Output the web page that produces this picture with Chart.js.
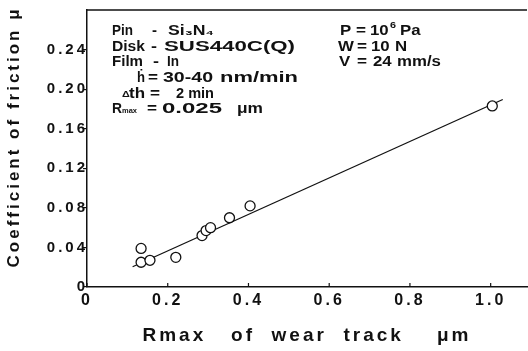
<!DOCTYPE html>
<html><head><meta charset="utf-8">
<script src="https://cdn.jsdelivr.net/npm/chart.js@4.4.1/dist/chart.umd.min.js"></script>
<style>html,body{margin:0;padding:0;background:#fff}#c{display:block}</style>
</head><body>
<canvas id="c" width="528" height="351" style="width:528px;height:351px"></canvas>
<script>
// ---- data ----
const rmaxWear     = [0.134, 0.134, 0.156, 0.220, 0.285, 0.295, 0.306, 0.353, 0.404, 1.004];
const frictionCoef = [0.039, 0.025, 0.027, 0.030, 0.052, 0.057, 0.060, 0.070, 0.082, 0.183];
const fitX = [0.113, 1.03];
const fitY = [0.0205, 0.1895];
const xTicks = [0, 0.2, 0.4, 0.6, 0.8, 1.0];
const xTickLabels = ['0', '0.2', '0.4', '0.6', '0.8', '1.0'];
const yTicks = [0, 0.04, 0.08, 0.12, 0.16, 0.20, 0.24];
const yTickLabels = ['0', '0.04', '0.08', '0.12', '0.16', '0.20', '0.24'];
const xTitle = 'Rmax   of  wear  track    \u03bcm';
const yTitle = '   Coefficient of friction \u03bc';

// annotation text pieces: [text, x, y, fontSize, targetWidth(0 = natural*1.2)]
const notes = [
  ['Pin', 112, 31, 14, 21], ['-', 152, 31, 14, 5], ['Si\u2083N\u2084', 168, 31, 14, 46],
  ['Disk', 112, 47, 14, 33], ['-', 151, 47, 14, 6], ['SUS440C(Q)', 164, 47, 14, 131],
  ['Film', 112, 62, 14, 31], ['-', 153, 62, 14, 6], ['In', 167, 62, 14, 12],
  ['\u1e23', 137, 78, 14, 8], ['=', 148, 78, 14, 10], ['30-40', 163, 78, 14, 50], ['nm/min', 220, 78, 14, 78],
  ['\u0394', 122, 95, 9, 0], ['th', 129, 94, 14, 16], ['=', 150, 94, 14, 10], ['2 min', 176, 94, 14, 38],
  ['R', 112, 109, 14, 10], ['max', 122, 111, 8, 15], ['=', 147, 109, 14, 10], ['0.025', 162, 109, 14, 60], ['\u03bcm', 237, 109, 14, 26],
  ['P', 340, 31, 14, 0], ['=', 356, 31, 14, 10], ['10', 370, 31, 14, 0], ['6', 390, 26, 9, 0], ['Pa', 400, 31, 14, 0],
  ['W', 338, 47, 14, 0], ['=', 357, 47, 14, 10], ['10', 371, 47, 14, 0], ['N', 395, 47, 14, 0],
  ['V', 339, 62, 14, 0], ['=', 357, 62, 14, 10], ['24', 373, 62, 14, 0], ['mm/s', 397, 62, 14, 0]
];

const FONT = "'Liberation Sans', Arial, Helvetica, sans-serif";
const INK = '#111';

const spacingPlugin = {
  id: 'spacing',
  afterInit(chart) { chart.ctx.letterSpacing = '3px'; },
  beforeUpdate(chart) { chart.ctx.letterSpacing = '3px'; },
  beforeLayout(chart) { chart.ctx.letterSpacing = '3px'; },
  beforeDraw(chart) { chart.ctx.letterSpacing = '3px'; }
};

const framePlugin = {
  id: 'frame',
  afterDraw(chart) {
    const ctx = chart.ctx, a = chart.chartArea, xs = chart.scales.x;
    ctx.save();
    ctx.strokeStyle = INK;
    ctx.lineWidth = 1.5;
    ctx.beginPath();
    ctx.moveTo(a.left, a.top); ctx.lineTo(a.right, a.top);
    ctx.stroke();
    ctx.lineWidth = 1.2;
    xTicks.forEach(v => {
      const px = xs.getPixelForValue(v);
      ctx.beginPath(); ctx.moveTo(px, a.bottom); ctx.lineTo(px, a.bottom - 4); ctx.stroke();
    });
    ctx.fillStyle = INK;
    ctx.textBaseline = 'middle';
    ctx.textAlign = 'left';
    ctx.letterSpacing = '0px';
    notes.forEach(([t, x, y, s, w]) => {
      ctx.save();
      ctx.font = 'bold ' + s + 'px ' + FONT;
      const m = ctx.measureText(t).width;
      const sx = w > 0 ? w / m : 1.2;
      ctx.translate(x, y);
      ctx.scale(sx, 1);
      ctx.fillText(t, 0, 0);
      ctx.restore();
    });
    ctx.restore();
  }
};

new Chart(document.getElementById('c'), {
  type: 'scatter',
  data: {
    datasets: [
      {
        type: 'scatter',
        data: rmaxWear.map((x, i) => ({ x, y: frictionCoef[i] })),
        pointStyle: 'circle', pointRadius: 5, pointBorderWidth: 1.3,
        pointBorderColor: INK, pointBackgroundColor: '#fff', order: 0
      },
      {
        type: 'line',
        data: fitX.map((x, i) => ({ x, y: fitY[i] })),
        borderColor: INK, borderWidth: 1.3, pointRadius: 0, fill: false, order: 1
      }
    ]
  },
  options: {
    responsive: false, animation: false, devicePixelRatio: 1,
    layout: { autoPadding: false, padding: { left: 0, right: 1, top: 10, bottom: 2 } },
    plugins: { legend: { display: false }, tooltip: { enabled: false } },
    scales: {
      x: {
        type: 'linear', min: 0, max: 1.09,
        afterBuildTicks: s => { s.ticks = xTicks.map(v => ({ value: v })); },
        afterFit: s => { s.height = 62; s.paddingRight = 0; s.paddingLeft = 0; },
        ticks: {
          color: INK, font: { family: FONT, size: 16, weight: 'bold' }, padding: 4,
          maxRotation: 0, autoSkip: false,
          callback: (v) => { const i = xTicks.findIndex(t => Math.abs(t - v) < 1e-9); return i >= 0 ? xTickLabels[i] : ''; }
        },
        grid: { drawOnChartArea: false, drawTicks: false },
        border: { display: true, color: INK, width: 1.5 },
        title: { display: true, text: xTitle, color: INK, font: { family: FONT, size: 19, weight: 'bold' }, padding: { top: 0, bottom: 2 } }
      },
      y: {
        type: 'linear', min: 0, max: 0.28,
        afterBuildTicks: s => { s.ticks = yTicks.map(v => ({ value: v })); },
        afterFit: s => { s.width = 87; },
        ticks: {
          color: INK, font: { family: FONT, size: 15, weight: 'bold' }, padding: -5, autoSkip: false,
          callback: (v) => { const i = yTicks.findIndex(t => Math.abs(t - v) < 1e-9); return i >= 0 ? yTickLabels[i] : ''; }
        },
        grid: { drawOnChartArea: false, drawTicks: true, tickLength: 4, color: INK, lineWidth: 1.2 },
        border: { display: true, color: INK, width: 1.5 },
        title: { display: true, text: yTitle, color: INK, font: { family: FONT, size: 17, weight: 'bold' }, padding: { top: 4, bottom: 0 } }
      }
    }
  },
  plugins: [spacingPlugin, framePlugin]
});
</script>
</body></html>
